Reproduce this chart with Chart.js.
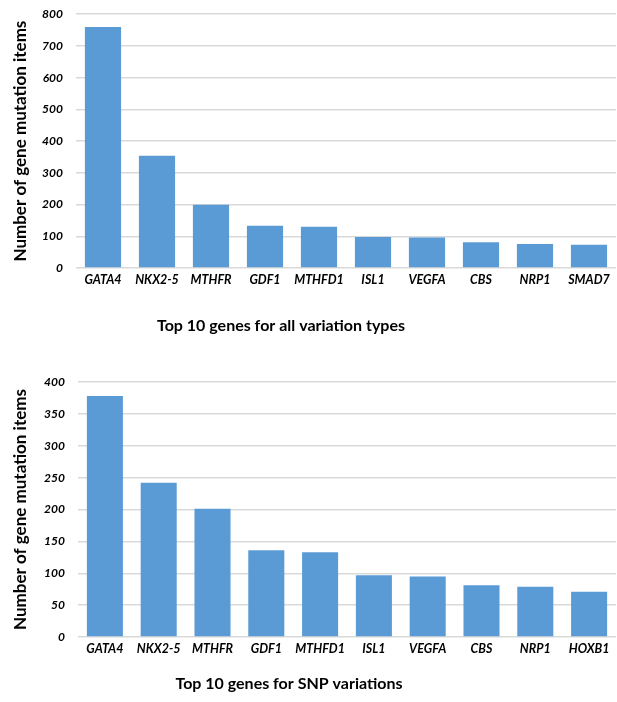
<!DOCTYPE html>
<html>
<head>
<meta charset="utf-8">
<script src="https://cdn.jsdelivr.net/npm/chart.js@4.4.1/dist/chart.umd.min.js"></script>
<style>
  body { margin: 0; background: #fff; overflow: hidden; }
  .box { position: relative; width: 617px; }
</style>
</head>
<body>
<div class="box" style="height:346px; margin-top:-6px"><canvas id="chartAll"></canvas></div>
<div class="box" style="height:362px"><canvas id="chartSnp"></canvas></div>
<script>
// data
const genesAll = ['GATA4', 'NKX2-5', 'MTHFR', 'GDF1', 'MTHFD1', 'ISL1', 'VEGFA', 'CBS', 'NRP1', 'SMAD7'];
const countsAll = [760, 354, 199, 133, 130, 98, 96, 81, 76, 73];

const genesSnp = ['GATA4', 'NKX2-5', 'MTHFR', 'GDF1', 'MTHFD1', 'ISL1', 'VEGFA', 'CBS', 'NRP1', 'HOXB1'];
const countsSnp = [378, 242, 201, 136, 133, 97, 95, 81, 79, 71];

const fontFamily = 'Lato, "Open Sans", sans-serif';

// draws the caption under the x labels
const captionPlugin = {
  id: 'caption',
  afterDraw(chart, args, opts) {
    const ctx = chart.ctx;
    ctx.save();
    ctx.font = 'bold 16px ' + fontFamily;
    ctx.fillStyle = '#000';
    ctx.textAlign = 'center';
    ctx.textBaseline = 'middle';
    ctx.fillText(opts.text, opts.x, chart.chartArea.bottom + opts.dy);
    ctx.restore();
  }
};

function makeChart(id, labels, values, yMax, yStep, caption, padTop, padBottom, leftWidth) {
  new Chart(document.getElementById(id), {
    type: 'bar',
    data: {
      labels: labels,
      datasets: [{
        data: values,
        backgroundColor: '#5B9BD5',
        barPercentage: 0.67,
        categoryPercentage: 1
      }]
    },
    plugins: [captionPlugin],
    options: {
      responsive: true,
      maintainAspectRatio: false,
      animation: false,
      layout: { padding: { top: padTop, bottom: padBottom, left: 0, right: 1 } },
      plugins: {
        legend: { display: false },
        tooltip: { enabled: false },
        caption: { text: caption.text, x: caption.x, dy: caption.dy }
      },
      scales: {
        x: {
          grid: { display: false, drawTicks: false },
          border: { display: false },
          ticks: {
            color: '#000',
            padding: 4,
            maxRotation: 0,
            font: { family: fontFamily, size: 12.5, weight: 'bold', style: 'italic' }
          }
        },
        y: {
          min: 0,
          max: yMax,
          afterFit(scale) { scale.width = leftWidth; },
          grid: { color: '#D9D9D9', lineWidth: 1.5, drawTicks: false },
          border: { display: false },
          ticks: {
            stepSize: yStep,
            color: '#000',
            padding: 13,
            font: { family: fontFamily, size: 12, weight: 'bold', style: 'italic' }
          },
          title: {
            display: true,
            text: 'Number of gene mutation items',
            color: '#000',
            padding: { top: 10, bottom: 0 },
            font: { family: fontFamily, size: 17, weight: 'bold' }
          }
        }
      }
    }
  });
}

makeChart('chartAll', genesAll, countsAll, 800, 100,
  { text: 'Top 10 genes for all variation types', x: 281, dy: 58 }, 2, 49, 76);
makeChart('chartSnp', genesSnp, countsSnp, 400, 50,
  { text: 'Top 10 genes for SNP variations', x: 289, dy: 47 }, 42, 42, 78);
</script>
</body>
</html>
